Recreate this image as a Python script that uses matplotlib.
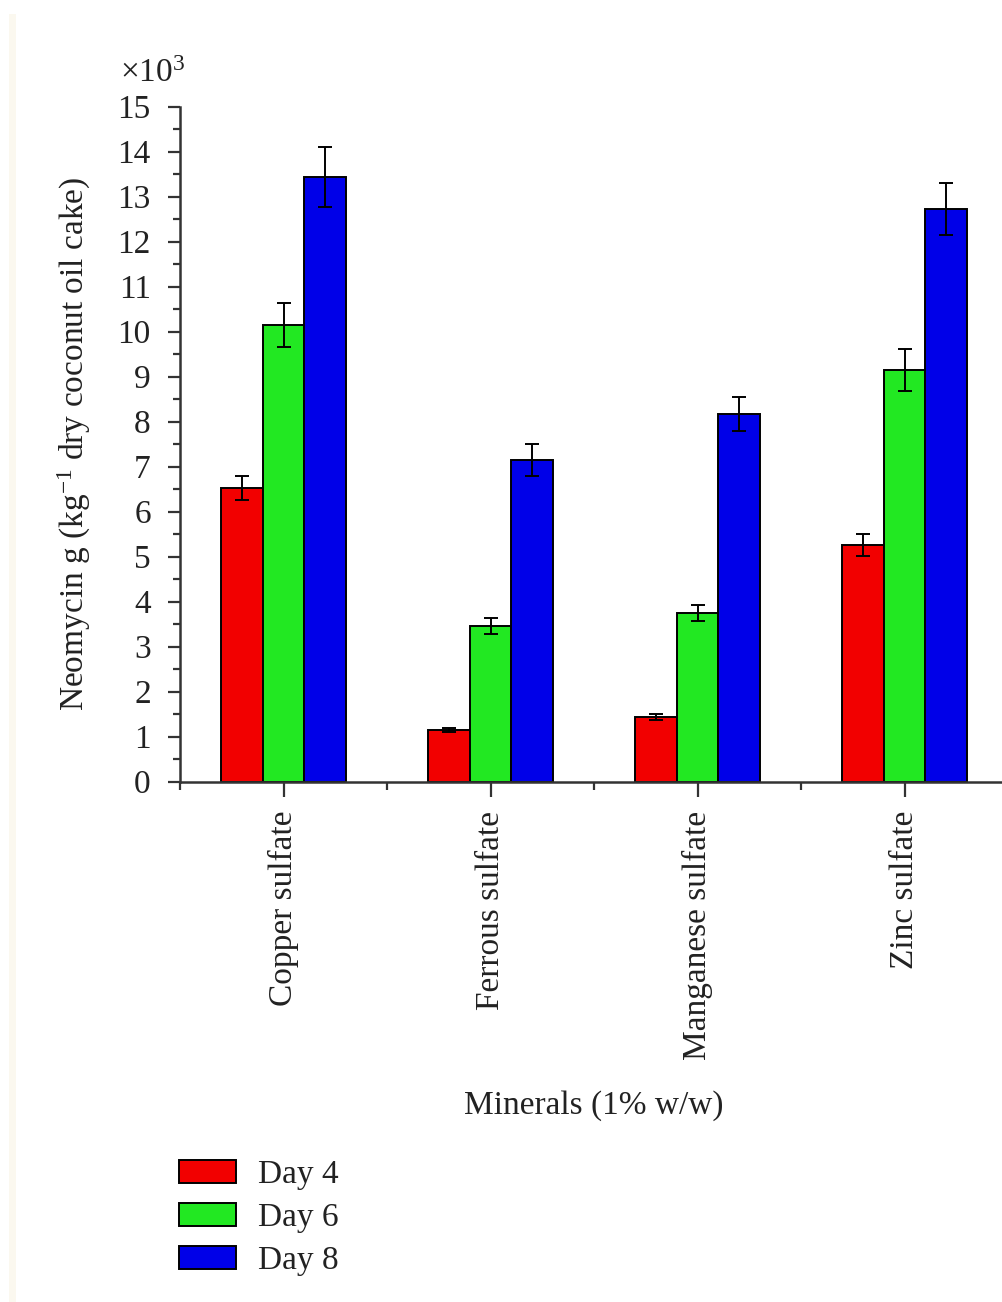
import matplotlib
matplotlib.use("Agg")
import matplotlib.pyplot as plt
import numpy as np
from matplotlib.ticker import MultipleLocator
from matplotlib.patches import Rectangle

plt.rcParams["font.family"] = ["Liberation Serif", "DejaVu Serif"]
plt.rcParams["mathtext.fontset"] = "custom"
plt.rcParams["mathtext.rm"] = "Liberation Serif"
plt.rcParams["mathtext.it"] = "Liberation Serif:italic"

# Neomycin yield (x10^3 g per kg dry coconut oil cake)
minerals = ["Copper sulfate", "Ferrous sulfate", "Manganese sulfate", "Zinc sulfate"]
days = ["Day 4", "Day 6", "Day 8"]
day4 = [6.52, 1.15, 1.44, 5.26]
day6 = [10.15, 3.46, 3.75, 9.15]
day8 = [13.44, 7.15, 8.17, 12.73]
day4_err = [0.27, 0.05, 0.06, 0.24]
day6_err = [0.48, 0.17, 0.18, 0.46]
day8_err = [0.67, 0.35, 0.38, 0.58]

series = [day4, day6, day8]
errors = [day4_err, day6_err, day8_err]
colors = ["#F20000", "#22E822", "#0000E8"]
FS = 24
TXT = "#222222"
AX = "#333333"

fig = plt.figure(figsize=(10.03, 13.02), dpi=100)

# faint page-edge strip on the left
fig.patches.append(Rectangle((9 / 1003, 0), 7 / 1003, 1 - 14 / 1302,
                             transform=fig.transFigure, facecolor="#FBF8EF",
                             edgecolor="none", zorder=0))

ax = fig.add_axes([180 / 1003, 1 - 781.7 / 1302, 828 / 1003, 675 / 1302])

x = np.arange(len(minerals))
width = 0.2
for i, (vals, errs, col, lab) in enumerate(zip(series, errors, colors, days)):
    ax.bar(x + (i - 1) * width, vals, width, color=col, edgecolor="black",
           linewidth=1.4, label=lab, zorder=2)
    ax.errorbar(x + (i - 1) * width, vals, yerr=errs, fmt="none",
                ecolor="black", elinewidth=1.4, capsize=5, capthick=1.4, zorder=3)

ax.set_xlim(-0.5, 3.5)
ax.set_ylim(0, 15)
ax.yaxis.set_major_locator(MultipleLocator(1))
ax.yaxis.set_minor_locator(MultipleLocator(0.5))
ax.set_xticks(x)
ax.set_xticks(np.arange(-0.5, 4, 1), minor=True)
ax.set_xticklabels(minerals, rotation=90, fontsize=FS, color=TXT)
ax.tick_params(axis="y", labelsize=FS, labelcolor=TXT)

for s in ["top", "right"]:
    ax.spines[s].set_visible(False)
for s in ["left", "bottom"]:
    ax.spines[s].set_linewidth(1.8)
    ax.spines[s].set_color(AX)

ax.tick_params(axis="y", which="major", length=9, width=1.6, color=AX, pad=12)
ax.tick_params(axis="y", which="minor", length=5, width=1.6, color=AX)
ax.tick_params(axis="x", which="major", length=11, width=1.6, color=AX, pad=10)
ax.tick_params(axis="x", which="minor", length=6, width=1.6, color=AX)

ax.set_ylabel(r"Neomycin g (kg$^{-1}$ dry coconut oil cake)", fontsize=FS, color=TXT)
ax.yaxis.set_label_coords((93 - 180) / 828, 0.5)
ax.set_xlabel("Minerals (1% w/w)", fontsize=FS, color=TXT, labelpad=22)

fig.text(120 / 1003, 1 - 82 / 1302, r"$\times$10$^{3}$", fontsize=FS,
         color=TXT, ha="left", va="baseline")

handles, labels = ax.get_legend_handles_labels()
fig.legend(handles, labels, loc="upper left",
           bbox_to_anchor=(156 / 1003, 1 - 1136 / 1302),
           frameon=False, fontsize=FS, handlelength=1.7, handleheight=0.7,
           labelspacing=0.38, handletextpad=0.65, borderpad=0.2,
           labelcolor=TXT)

fig.savefig("out.png", dpi=100, facecolor="white")
